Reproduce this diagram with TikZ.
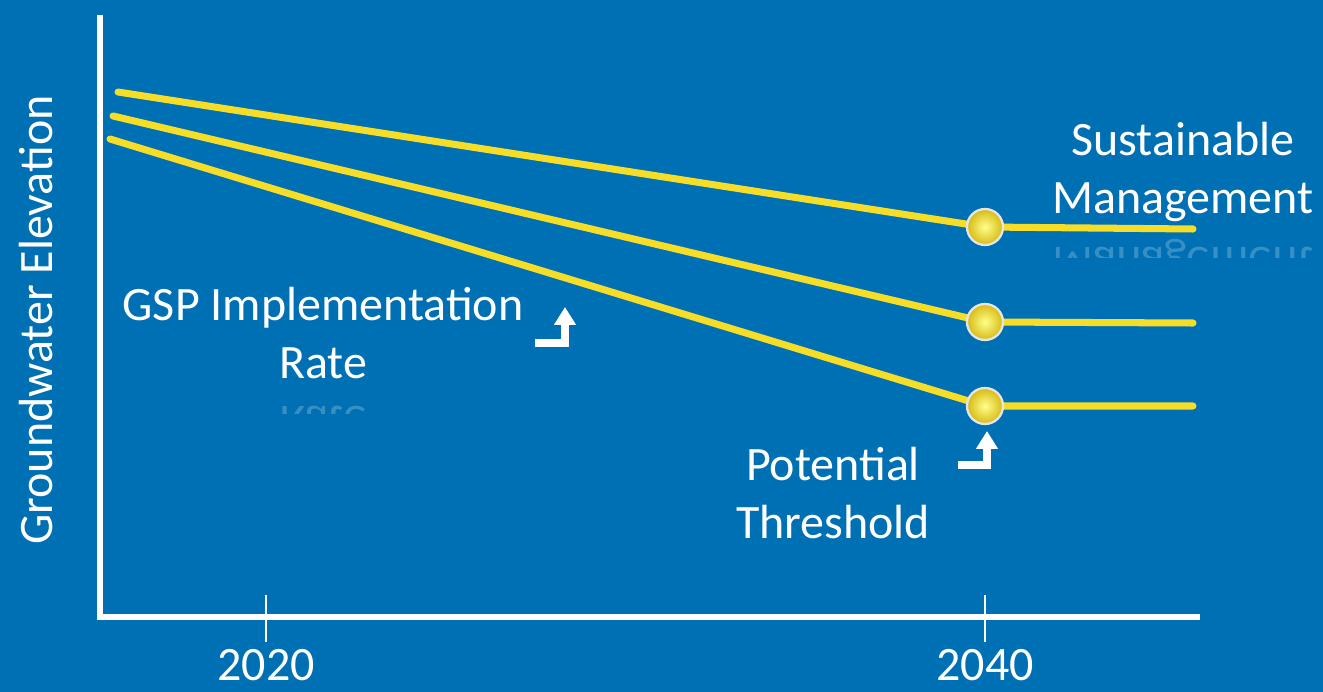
\documentclass[tikz,border=0pt]{standalone}
\usepackage{fontspec}
\setmainfont{Carlito}
\usetikzlibrary{arrows.meta}
\definecolor{slideblue}{RGB}{0,112,180}
\definecolor{lineyellow}{RGB}{246,221,40}
\definecolor{ballrim}{RGB}{214,186,20}

\begin{document}
\begin{tikzpicture}[x=0.02cm,y=-0.02cm,
    every node/.style={text=white,font=\fontsize{27.3}{32.5}\selectfont,align=center,inner sep=0pt},
    axis/.style={draw=white,line width=3.4pt},
    tick/.style={draw=white,line width=1.6pt},
    level/.style={draw=lineyellow,line width=4pt,line cap=round},
    marker/.style={circle,minimum size=0.72cm,inner color=yellow!45!white,outer color=ballrim,draw=white!80!gray,line width=1.3pt},
    elbow/.style={draw=white,line width=5pt,-{Triangle[length=0.36cm,width=0.42cm]}},
    mirror/.style={yscale=-1,opacity=0.22}]

  % Background and frame
  \fill[slideblue] (0,0) rectangle (1323,692);
  \useasboundingbox (0,0) rectangle (1323,692);

  % Axes
  \coordinate (top) at (100,15);
  \coordinate (orig) at (100,617);
  \coordinate (right) at (1200,617);
  \draw[axis] (top) -- (orig) -- (right);
  \draw[tick] (266,595) -- (266,642);
  \draw[tick] (985,595) -- (985,642);
  \node (y20) at (266,665) {2020};
  \node (y40) at (985,665) {2040};
  \node[rotate=90] (ylab) at (36,320) {Groundwater Elevation};

  % Elevation paths
  \coordinate (s1) at (118,92);
  \coordinate (s2) at (113,116);
  \coordinate (s3) at (110,139);
  \coordinate (k1) at (985,227);
  \coordinate (k2) at (985,322);
  \coordinate (k3) at (985,406);
  \coordinate (e1) at (1193,229);
  \coordinate (e2) at (1193,323);
  \coordinate (e3) at (1193,406);
  \draw[level] (s1) -- (k1) -- (e1);
  \draw[level] (s2) -- (k2) -- (e2);
  \draw[level] (s3) -- (k3) -- (e3);
  \node[marker] (m1) at (k1) {};
  \node[marker] (m2) at (k2) {};
  \node[marker] (m3) at (k3) {};

  % Labels
  \node (sm) at (1183,172) {Sustainable\\Management};
  \node (gsp) at (323,333) {GSP Implementation\\Rate};
  \node (pt) at (833,493) {Potential\\Threshold};

  % Reflections
  \begin{scope}
    \clip (1040,236) rectangle (1323,258);
    \node[mirror] at (1183,259) {Management};
  \end{scope}
  \begin{scope}
    \clip (260,398) rectangle (400,414);
    \node[mirror] at (323,422) {Rate};
  \end{scope}

  % Pointers
  \coordinate (a1s) at (535,343);
  \coordinate (a1t) at (565,307);
  \coordinate (a2s) at (958,465);
  \coordinate (a2t) at (987,431);
  \draw[elbow] (a1s) -| (a1t);
  \draw[elbow] (a2s) -| (a2t);

\end{tikzpicture}
\end{document}
